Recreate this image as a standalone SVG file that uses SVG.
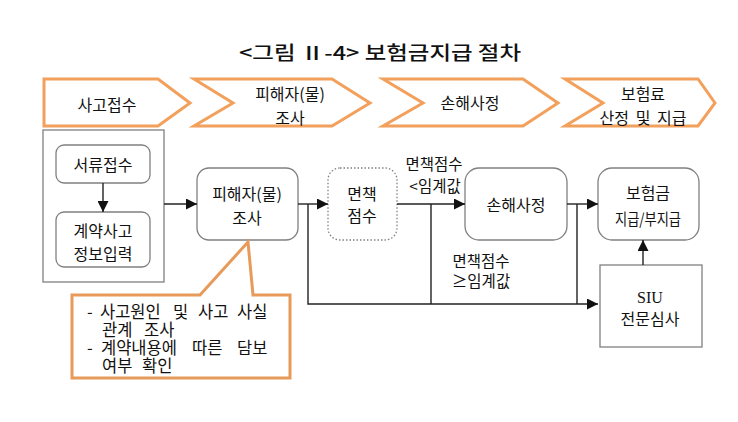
<svg xmlns="http://www.w3.org/2000/svg" width="738" height="422" viewBox="0 0 738 422">
<style>
  .t { font-family: "Noto Sans CJK KR", "Noto Sans", sans-serif; fill: #111; dominant-baseline: central; text-anchor: middle; }
  .title { font-size: 19px; font-weight: 500; }
  .chev { fill: #fff; stroke: #F2A05C; stroke-width: 3; stroke-linejoin: miter; }
  .ct { font-size: 16px; }
  .box { fill: #fff; stroke: #808080; stroke-width: 1.3; }
  .dot { fill: #fff; stroke: #808080; stroke-width: 1.3; stroke-dasharray: 1.5 2; }
  .bt { font-size: 16px; }
  .lt { font-size: 15.5px; }
  .call { fill: #fff; stroke: #E89A5A; stroke-width: 3; stroke-linejoin: miter; }
  .ko { font-size: 16.5px; text-anchor: start; }
  .con { fill: none; stroke: #222; stroke-width: 1.4; }
  .serif { font-family: "Liberation Serif", serif; }
</style>
<defs>
  <marker id="arr" markerUnits="userSpaceOnUse" markerWidth="11" markerHeight="11" refX="11" refY="5.5" orient="auto">
    <path d="M0,0 L11,5.5 L0,11 Z" fill="#111"/>
  </marker>
</defs>
<rect width="738" height="422" fill="#fff"/>

<text id="title" class="t title" x="380" y="51" textLength="282" lengthAdjust="spacingAndGlyphs">&lt;그림  Ⅱ-4&gt; 보험금지급 절차</text>

<g id="chev1">
  <polygon class="chev" points="44,79 158,79 190,103 158,126 44,126"/>
  <text class="t ct" x="107" y="104">사고접수</text>
</g>
<g id="chev2">
  <polygon class="chev" points="194,79 332,79 370,103 332,126 194,126 233,103"/>
  <text class="t ct" x="290" y="93">피해자(물)</text>
  <text class="t ct" x="290" y="117">조사</text>
</g>
<g id="chev3">
  <polygon class="chev" points="383,79 523,79 558,103 523,126 383,126 423,103"/>
  <text class="t ct" x="470" y="102">손해사정</text>
</g>
<g id="chev4">
  <polygon class="chev" points="565,79 698,79 715,103 698,126 565,126 603,103"/>
  <text class="t ct" x="643" y="93">보험료</text>
  <text class="t ct" x="643" y="117" word-spacing="3">산정 및 지급</text>
</g>

<g id="group-left">
  <rect class="box" x="43" y="130" width="121" height="152"/>
</g>
<g id="n-docs">
  <rect class="box" x="56" y="145" width="94" height="38" rx="8"/>
  <text class="t bt" x="103" y="164">서류접수</text>
</g>
<g id="n-input">
  <rect class="box" x="56" y="212" width="94" height="55" rx="8"/>
  <text class="t bt" x="103" y="230">계약사고</text>
  <text class="t bt" x="103" y="253">정보입력</text>
</g>
<g id="n-survey">
  <rect class="box" x="197" y="168" width="101" height="72" rx="12"/>
  <text class="t bt" x="247" y="193">피해자(물)</text>
  <text class="t bt" x="247" y="217">조사</text>
</g>
<g id="n-exempt">
  <rect class="dot" x="328" y="168" width="69" height="72" rx="12"/>
  <text class="t bt" x="362" y="193">면책</text>
  <text class="t bt" x="362" y="215">점수</text>
</g>
<g id="n-adjust">
  <rect class="box" x="465" y="168" width="102" height="72" rx="14"/>
  <text class="t bt" x="516" y="204">손해사정</text>
</g>
<g id="n-pay">
  <rect class="box" x="598" y="168" width="101" height="72" rx="14"/>
  <text class="t bt" x="648" y="192">보험금</text>
  <text class="t bt" x="648" y="218" textLength="66" lengthAdjust="spacingAndGlyphs">지급/부지급</text>
</g>
<g id="n-siu">
  <rect class="box" x="600" y="265" width="102" height="82"/>
  <text class="t bt serif" x="650" y="297">SIU</text>
  <text class="t bt" x="650" y="318">전문심사</text>
</g>

<g id="connectors">
  <line class="con" x1="103" y1="183" x2="103" y2="212" marker-end="url(#arr)"/>
  <line class="con" x1="164" y1="204" x2="197" y2="204" marker-end="url(#arr)"/>
  <line class="con" x1="298" y1="204" x2="328" y2="204" marker-end="url(#arr)"/>
  <polyline class="con" points="308,204 308,304 598,304" marker-end="url(#arr)"/>
  <line class="con" x1="397" y1="204" x2="465" y2="204" marker-end="url(#arr)"/>
  <line class="con" x1="431" y1="204" x2="431" y2="304"/>
  <line class="con" x1="567" y1="204" x2="598" y2="204" marker-end="url(#arr)"/>
  <line class="con" x1="577" y1="204" x2="577" y2="304"/>
  <line class="con" x1="643" y1="265" x2="643" y2="240" marker-end="url(#arr)"/>
  <text class="t lt" x="434" y="163">면책점수</text>
  <text class="t lt" x="435" y="185">&lt;임계값</text>
  <text class="t lt" x="481" y="260">면책점수</text>
  <text class="t lt" x="481" y="280">≥임계값</text>
</g>

<g id="callout">
  <path class="call" d="M72,295 L200,295 L248,242 L253,295 L290,295 L290,378 L72,378 Z"/>
  <text class="t ko" y="311"><tspan x="87">-</tspan><tspan x="100">사고원인</tspan><tspan x="173">및</tspan><tspan x="198">사고</tspan><tspan x="237">사실</tspan></text>
  <text class="t ko" y="329"><tspan x="102">관계</tspan><tspan x="144">조사</tspan></text>
  <text class="t ko" y="347"><tspan x="87">-</tspan><tspan x="101">계약내용에</tspan><tspan x="192">따른</tspan><tspan x="237">담보</tspan></text>
  <text class="t ko" y="365"><tspan x="102">여부</tspan><tspan x="142">확인</tspan></text>
</g>
</svg>
